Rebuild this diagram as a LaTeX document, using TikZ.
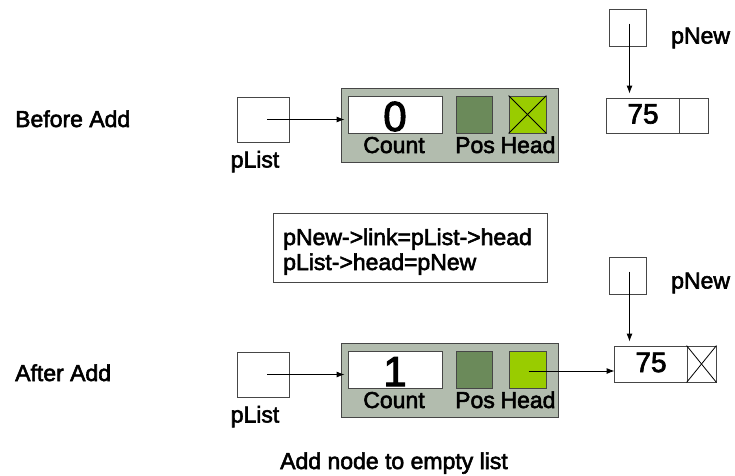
\documentclass[tikz,border=0pt]{standalone}
\usepackage{fontspec}
\setmainfont[FakeBold=2.5]{Liberation Sans}
\usetikzlibrary{arrows.meta}

\definecolor{listgray}{RGB}{178,188,174}
\definecolor{posgreen}{RGB}{107,138,90}
\definecolor{headgreen}{RGB}{153,204,0}
\definecolor{edgegray}{RGB}{70,70,70}

\tikzset{
  box/.style={draw=edgegray, line width=0.9pt, rectangle, inner sep=0pt, fill=white},
  headbox/.style={draw=edgegray, line width=0.9pt, rectangle, inner sep=0pt, fill=listgray},
  lbl/.style={inner sep=0pt, font=\fontsize{23}{25}\selectfont},
  fieldlbl/.style={lbl, text height=0.72em, text depth=0pt},
  digit/.style={inner sep=0pt, text depth=0pt},
  ptr/.style={line width=0.9pt, -{Latex[length=8pt,width=6pt]}},
  xline/.style={line width=0.8pt, draw=black}
}

\newcommand{\crossbox}[1]{%
  \draw[xline] (#1.north west) -- (#1.south east);
  \draw[xline] (#1.south west) -- (#1.north east);}

\begin{document}
\begin{tikzpicture}[x=1pt,y=-1pt]
\useasboundingbox (0,0) rectangle (735,475);

% ---------- before the insertion ----------
\node[lbl, anchor=base west] (tbefore) at (15,127) {Before Add};

\node[box, minimum width=52pt, minimum height=45pt] (plistA) at (263,119.5) {};
\node[lbl, anchor=base] (plistAl) at (255,167.5) {pList};

\node[headbox, minimum width=217pt, minimum height=74pt] (grayA) at (449.5,125) {};
\node[box, minimum width=94pt, minimum height=37pt] (countA) at (395,114.5) {};
\node[box, fill=posgreen, minimum width=36pt, minimum height=37pt] (posA) at (474,114.5) {};
\node[box, fill=headgreen, minimum width=37pt, minimum height=37pt] (headA) at (527.5,114.5) {};
\crossbox{headA}
\node[digit, anchor=base, font=\fontsize{42}{42}\selectfont] (zeroA) at (395,131) {0};
\node[fieldlbl, anchor=base] (countAl) at (394,153) {Count};
\node[fieldlbl, anchor=base] (posAl) at (475,153) {Pos};
\node[fieldlbl, anchor=base] (headAl) at (528,153) {Head};

\node[box, minimum width=37pt, minimum height=37pt] (pnewA) at (627.5,27.5) {};
\node[lbl, anchor=base west] (pnewAl) at (671,43.5) {pNew};
\node[box, minimum width=73pt, minimum height=35pt] (dataA) at (642.5,115.5) {};
\node[box, minimum width=29pt, minimum height=35pt] (linkA) at (693.5,115.5) {};
\node[digit, anchor=base, font=\fontsize{28}{28}\selectfont] (valA) at (643,123.5) {75};

\draw[ptr] ([xshift=4pt]plistA.center) -- ([xshift=4pt]plistA.center -| grayA.west);
\draw[ptr] ([xshift=2pt,yshift=4pt]pnewA.center) -- ([xshift=2pt,yshift=4pt]pnewA.center |- dataA.north);

% ---------- the two statements ----------
\node[draw=edgegray, line width=0.9pt, rectangle, inner sep=0pt,
      minimum width=274pt, minimum height=69pt] (code) at (410,247.5) {};
\node[lbl, anchor=base west] (code1) at (283,245) {pNew->link=pList->head};
\node[lbl, anchor=base west] (code2) at (283,270) {pList->head=pNew};

% ---------- after the insertion ----------
\node[lbl, anchor=base west] (tafter) at (15,381) {After Add};

\node[box, minimum width=52pt, minimum height=45pt] (plistB) at (263,374.5) {};
\node[lbl, anchor=base] (plistBl) at (255,422.5) {pList};

\node[headbox, minimum width=217pt, minimum height=74pt] (grayB) at (449.5,380) {};
\node[box, minimum width=94pt, minimum height=37pt] (countB) at (395,369.5) {};
\node[box, fill=posgreen, minimum width=36pt, minimum height=37pt] (posB) at (474,369.5) {};
\node[box, fill=headgreen, minimum width=37pt, minimum height=37pt] (headB) at (527.5,369.5) {};
\node[digit, anchor=base, font=\fontsize{42}{42}\selectfont] (oneB) at (395,386) {1};
\node[fieldlbl, anchor=base] (countBl) at (394,408) {Count};
\node[fieldlbl, anchor=base] (posBl) at (475,408) {Pos};
\node[fieldlbl, anchor=base] (headBl) at (528,408) {Head};

\node[box, minimum width=37pt, minimum height=37pt] (pnewB) at (627.5,275.5) {};
\node[lbl, anchor=base west] (pnewBl) at (671,288.5) {pNew};
\node[box, minimum width=73pt, minimum height=36pt] (dataB) at (650.5,364) {};
\node[box, minimum width=29pt, minimum height=36pt] (linkB) at (701.5,364) {};
\crossbox{linkB}
\node[digit, anchor=base, font=\fontsize{28}{28}\selectfont] (valB) at (651,372) {75};

\draw[ptr] ([xshift=4pt]plistB.center) -- ([xshift=4pt]plistB.center -| grayB.west);
\draw[ptr] ([xshift=2pt,yshift=4pt]pnewB.center) -- ([xshift=2pt,yshift=4pt]pnewB.center |- dataB.north);
\draw[ptr] ([xshift=1pt,yshift=-1.5pt]headB.center) -- ([xshift=1pt,yshift=-1.5pt]headB.center -| dataB.west);

% ---------- caption ----------
\node[lbl, anchor=base west] (caption) at (280,469) {Add node to empty list};
\end{tikzpicture}
\end{document}
